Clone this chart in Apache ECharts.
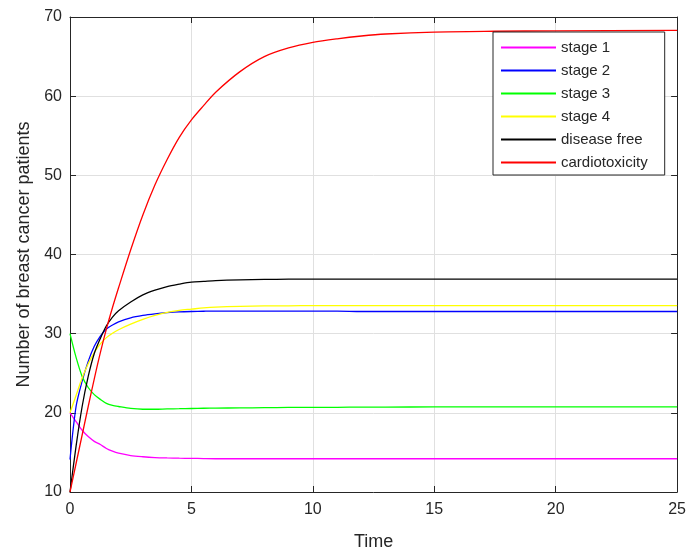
<!DOCTYPE html>
<html>
<head>
<meta charset="utf-8">
<script src="https://cdn.jsdelivr.net/npm/echarts@6/dist/echarts.min.js"></script>
<style>
html,body{margin:0;padding:0;background:#fff;}
#chart{width:689px;height:556px;}
</style>
</head>
<body>
<div id="chart"></div>
<script>
// Time points (x values) at which curves were read
var times = [0, 0.25, 0.5, 0.75, 1, 1.25, 1.5, 1.75, 2, 2.5, 3, 3.5, 4, 4.5, 5, 5.5, 6, 7, 8, 9, 10, 11, 12, 13, 15, 17.5, 20, 25];

var stage1 = [20, 18.9, 17.8, 17.0, 16.4, 16.0, 15.5, 15.15, 14.9, 14.6, 14.45, 14.35, 14.3, 14.27, 14.25, 14.22, 14.2, 14.2, 14.2, 14.2, 14.2, 14.2, 14.2, 14.2, 14.2, 14.2, 14.2, 14.2];
var stage2 = [14.1, 20.8, 24.0, 26.5, 28.4, 29.7, 30.6, 31.1, 31.5, 32.0, 32.3, 32.5, 32.65, 32.75, 32.8, 32.83, 32.85, 32.85, 32.85, 32.85, 32.85, 32.85, 32.8, 32.8, 32.8, 32.8, 32.8, 32.8];
var stage3 = [30, 27.0, 24.6, 23.2, 22.3, 21.7, 21.2, 20.95, 20.8, 20.55, 20.45, 20.45, 20.5, 20.52, 20.55, 20.58, 20.6, 20.62, 20.65, 20.68, 20.7, 20.7, 20.72, 20.72, 20.75, 20.75, 20.75, 20.75];
var stage4 = [20, 22.2, 24.4, 26.2, 27.6, 28.7, 29.5, 30.05, 30.5, 31.2, 31.8, 32.3, 32.7, 32.95, 33.1, 33.25, 33.35, 33.45, 33.5, 33.52, 33.55, 33.55, 33.55, 33.55, 33.55, 33.55, 33.55, 33.55];
var diseaseFree = [10, 15.8, 20.8, 24.6, 27.5, 29.4, 31.0, 32.1, 32.9, 34.0, 34.9, 35.5, 35.95, 36.25, 36.5, 36.6, 36.7, 36.8, 36.85, 36.88, 36.9, 36.9, 36.9, 36.9, 36.9, 36.9, 36.9, 36.9];
var cardiotoxicity = [10, 13.6, 17.2, 20.8, 24.3, 27.6, 30.6, 33.3, 35.8, 40.6, 45.0, 48.8, 52.0, 54.8, 57.0, 58.8, 60.5, 63.1, 65.0, 66.1, 66.8, 67.25, 67.6, 67.85, 68.1, 68.2, 68.25, 68.3];

var seriesNames = ['stage 1', 'stage 2', 'stage 3', 'stage 4', 'disease free', 'cardiotoxicity'];
var seriesValues = [stage1, stage2, stage3, stage4, diseaseFree, cardiotoxicity];
var seriesColors = ['#ff00ff', '#0000ff', '#00ff00', '#ffff00', '#000000', '#ff0000'];

var xTicks = [0, 5, 10, 15, 20, 25];
var yTicks = [10, 20, 30, 40, 50, 60, 70];

var FONT = "'Liberation Sans', Arial, Helvetica, sans-serif";
var AXIS_COLOR = '#262626';

function pairs(vals) {
  return times.map(function (t, i) { return [t, vals[i]]; });
}

var series = seriesNames.map(function (name, i) {
  return {
    name: name,
    type: 'line',
    data: pairs(seriesValues[i]),
    symbol: 'none',
    smooth: 0.3,
    lineStyle: { color: seriesColors[i], width: 1.3 },
    itemStyle: { color: seriesColors[i] },
    emphasis: { disabled: true },
    animation: false,
    xAxisIndex: 0,
    yAxisIndex: 0
  };
});

var chart = echarts.init(document.getElementById('chart'), null, { renderer: 'canvas' });

var baseX = {
  type: 'value',
  min: xTicks[0],
  max: xTicks[xTicks.length - 1],
  interval: xTicks[1] - xTicks[0]
};
var baseY = {
  type: 'value',
  min: yTicks[0],
  max: yTicks[yTicks.length - 1],
  interval: yTicks[1] - yTicks[0]
};

chart.setOption({
  animation: false,
  backgroundColor: '#ffffff',
  textStyle: { fontFamily: FONT },
  grid: { left: 70, right: 11, top: 17, bottom: 59, containLabel: false },
  legend: {
    data: seriesNames,
    orient: 'vertical',
    left: 493,
    top: 32,
    itemWidth: 55,
    itemHeight: 15,
    itemGap: 8,
    padding: [8, 17, 5, 7],
    backgroundColor: '#ffffff',
    borderColor: AXIS_COLOR,
    borderWidth: 1,
    borderRadius: 0,
    selectedMode: false,
    itemStyle: { opacity: 0, borderWidth: 0 },
    textStyle: { fontSize: 15, color: AXIS_COLOR, fontFamily: FONT }
  },
  xAxis: [
    Object.assign({}, baseX, {
      position: 'bottom',
      name: 'Time',
      nameLocation: 'middle',
      nameGap: 41,
      nameTextStyle: { fontSize: 18, color: AXIS_COLOR, fontFamily: FONT },
      axisLine: { show: true, onZero: false, lineStyle: { color: AXIS_COLOR, width: 1 } },
      axisTick: { show: true, inside: true, length: 6, lineStyle: { color: AXIS_COLOR } },
      axisLabel: { show: true, margin: 10, fontSize: 16, color: AXIS_COLOR, fontFamily: FONT },
      splitLine: { show: true, lineStyle: { color: '#e0e0e0', width: 1 } }
    }),
    Object.assign({}, baseX, {
      position: 'top',
      axisLine: { show: true, onZero: false, lineStyle: { color: AXIS_COLOR, width: 1 } },
      axisTick: { show: true, inside: true, length: 6, lineStyle: { color: AXIS_COLOR } },
      axisLabel: { show: false },
      splitLine: { show: false }
    })
  ],
  yAxis: [
    Object.assign({}, baseY, {
      position: 'left',
      name: 'Number of breast cancer patients',
      nameLocation: 'middle',
      nameGap: 35,
      nameTextStyle: { fontSize: 18, color: AXIS_COLOR, fontFamily: FONT },
      axisLine: { show: true, onZero: false, lineStyle: { color: AXIS_COLOR, width: 1 } },
      axisTick: { show: true, inside: true, length: 6, lineStyle: { color: AXIS_COLOR } },
      axisLabel: { show: true, margin: 8, fontSize: 16, color: AXIS_COLOR, fontFamily: FONT },
      splitLine: { show: true, lineStyle: { color: '#e0e0e0', width: 1 } }
    }),
    Object.assign({}, baseY, {
      position: 'right',
      axisLine: { show: true, onZero: false, lineStyle: { color: AXIS_COLOR, width: 1 } },
      axisTick: { show: true, inside: true, length: 6, lineStyle: { color: AXIS_COLOR } },
      axisLabel: { show: false },
      splitLine: { show: false }
    })
  ],
  series: series
});
</script>
</body>
</html>
